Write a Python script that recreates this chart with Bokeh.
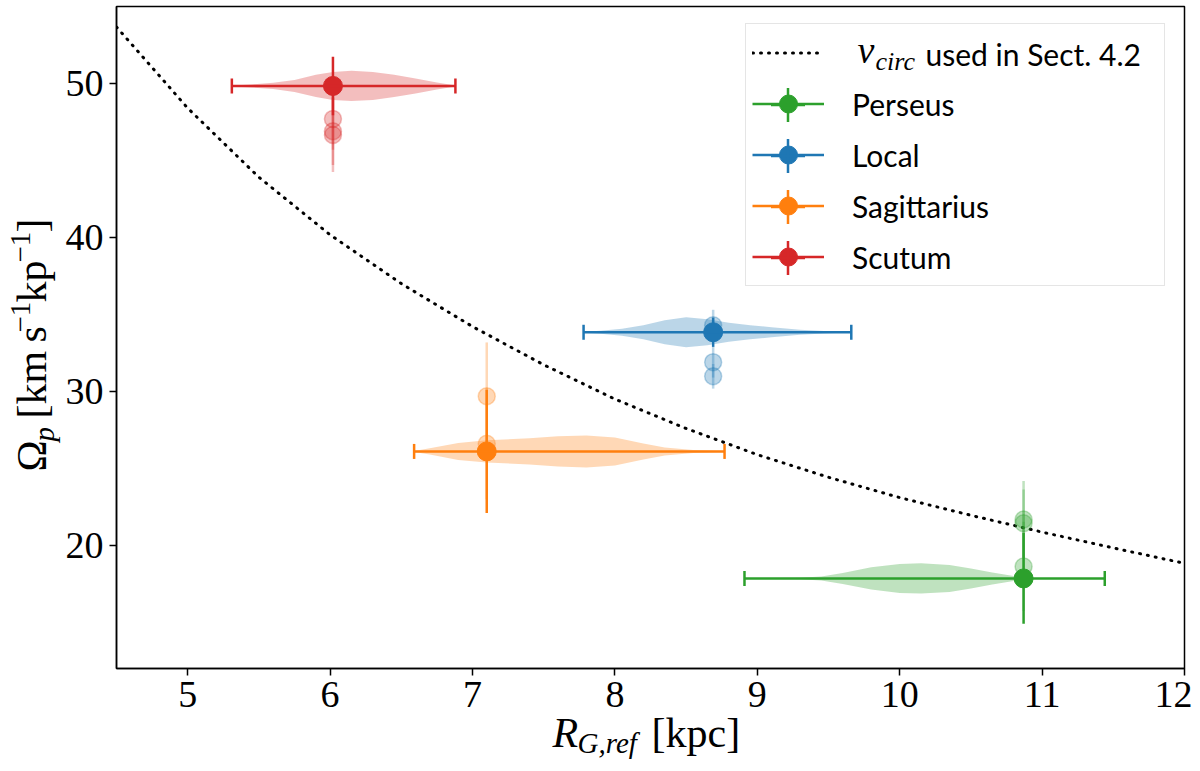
import numpy as np

from bokeh.plotting import figure
from bokeh.models import (ColumnDataSource, Range1d, FixedTicker, Whisker, TeeHead,
                          Legend, LegendItem, Label, GridBox)
from bokeh.core.properties import value
from bokeh.embed import file_html
from bokeh.resources import INLINE

# spiral arms, in legend order
arms = ["Perseus", "Local", "Sagittarius", "Scutum"]
arm_colors = ["#2ca02c", "#1f77b4", "#ff7f0e", "#d62728"]

# reference radius and the range of radii (kpc)
r_ref = [10.87, 8.69, 7.10, 6.02]
r_min = [8.91, 7.78, 6.59, 5.31]
r_max = [11.44, 9.66, 8.77, 6.88]

# pattern speed (km/s/kpc) and its error
omega_p = [17.85, 33.84, 26.10, 49.84]
omega_err = [2.95, 0.95, 4.0, 1.9]

# other estimates, drawn faded
alt_omega = [[21.68, 21.43, 18.63], [34.3, 31.9, 30.98], [29.68, 26.6], [47.7, 46.9, 46.65]]
alt_err = [[2.5, 2.2, 2.9], [1.0, 1.0, 0.8], [3.5, 3.6], [2.0, 2.2, 2.4]]

# violin outlines: radius grid and half width (Omega units)
violin_r = [
    [8.91, 9.1, 9.3, 9.45, 9.6, 9.8, 10.0, 10.15, 10.35, 10.5, 10.65, 10.8, 10.87],
    [7.78, 7.9, 8.05, 8.2, 8.35, 8.5, 8.65, 8.8, 8.95, 9.1, 9.3, 9.5, 9.66],
    [6.59, 6.7, 6.9, 7.1, 7.4, 7.6, 7.8, 8.0, 8.2, 8.35, 8.55, 8.77],
    [5.31, 5.45, 5.6, 5.75, 5.9, 6.02, 6.15, 6.3, 6.45, 6.6, 6.75, 6.88],
]
violin_hw = [
    [0.02, 0.03, 0.05, 0.13, 0.36, 0.72, 0.94, 0.98, 0.88, 0.65, 0.39, 0.16, 0.07],
    [0.03, 0.10, 0.23, 0.46, 0.78, 0.98, 0.85, 0.62, 0.46, 0.33, 0.16, 0.07, 0.02],
    [0.03, 0.20, 0.55, 0.72, 0.85, 0.98, 1.04, 0.91, 0.52, 0.26, 0.10, 0.02],
    [0.03, 0.10, 0.20, 0.39, 0.72, 0.91, 0.98, 0.91, 0.72, 0.49, 0.23, 0.03],
]

# Omega = v_circ / R curve (Sect. 4.2)
curve_r = [4.5, 5.0, 5.5, 6.0, 6.5, 7.0, 7.5, 8.0, 8.5, 9.0, 9.5, 10.0, 10.5, 11.0, 11.5, 12.0]
curve_omega = [53.67, 48.4, 43.91, 40.17, 37.0, 34.21, 31.73, 29.5, 27.59, 25.89,
               24.42, 23.1, 21.95, 20.86, 19.83, 18.83]

x_ticks = [5, 6, 7, 8, 9, 10, 11, 12]
y_ticks = [20, 30, 40, 50]

SERIF = "Liberation Serif"
SANS = "Lato"

W = 1192
H = 763
MID = 0.32  # baseline sits this many em below the middle anchor


def text_label(txt, sx, base, size, style="normal", font=SERIF, rotated=False):
    # base: baseline position (y up for flat text, x for rotated text)
    shift = MID * size
    if rotated:
        x, y, angle = base - shift, sx, np.pi / 2
    else:
        x, y, angle = sx, base + shift, 0.0
    return Label(x=x, y=y, x_units="screen", y_units="screen", text=txt, angle=angle,
                 text_font=font, text_font_style=style, text_font_size=f"{size}px",
                 text_color="black", text_baseline="middle", level="overlay")


p = figure(width=W, height=H, x_range=Range1d(4.5, 12), y_range=Range1d(12, 55),
           output_backend="svg", toolbar_location=None, title=None,
           min_border_left=116, min_border_right=8, min_border_top=6, min_border_bottom=95)
p.xgrid.visible = False
p.ygrid.visible = False
p.outline_line_color = "black"
p.outline_line_width = 1.5
p.outline_line_alpha = 1.0
p.background_fill_color = "white"
p.border_fill_color = "white"

p.xaxis.ticker = FixedTicker(ticks=x_ticks)
p.yaxis.ticker = FixedTicker(ticks=y_ticks)
for ax in (p.xaxis[0], p.yaxis[0]):
    ax.axis_line_width = 1.5
    ax.major_tick_line_width = 1.5
    ax.major_tick_out = 7
    ax.major_tick_in = 0
    ax.minor_tick_line_color = None
    ax.major_label_text_font = SERIF
    ax.major_label_text_font_size = "38px"
    ax.major_label_text_color = "black"
    ax.major_label_standoff = 6

# dotted circular-velocity curve
curve = p.line(curve_r, curve_omega, line_color="black", line_width=3,
               line_dash="1 7", line_cap="round")

# violins
for i, c in enumerate(arm_colors):
    rr = violin_r[i]
    hw = violin_hw[i]
    xs = list(rr) + list(rr[::-1])
    ys = [omega_p[i] + h for h in hw] + [omega_p[i] - h for h in hw[::-1]]
    p.patch(xs, ys, fill_color=c, fill_alpha=0.3, line_color=None)

# faded alternative estimates
for i, c in enumerate(arm_colors):
    n = len(alt_omega[i])
    src = ColumnDataSource(data=dict(
        x=[r_ref[i]] * n, y=alt_omega[i],
        lo=[o - e for o, e in zip(alt_omega[i], alt_err[i])],
        hi=[o + e for o, e in zip(alt_omega[i], alt_err[i])],
    ))
    p.segment(x0="x", y0="lo", x1="x", y1="hi", source=src, line_color=c,
              line_alpha=0.3, line_width=2.5)
    p.scatter("x", "y", source=src, size=17, fill_color=c, fill_alpha=0.3,
              line_color=c, line_alpha=0.3, line_width=1.5)

# main points with error bars
vbars = []
dots = []
ticks = []
for i, c in enumerate(arm_colors):
    src = ColumnDataSource(data=dict(
        x=[r_ref[i]], y=[omega_p[i]], xlo=[r_min[i]], xhi=[r_max[i]],
        ylo=[omega_p[i] - omega_err[i]], yhi=[omega_p[i] + omega_err[i]],
    ))
    wh = Whisker(source=src, base="y", lower="xlo", upper="xhi", dimension="width",
                 line_color=c, line_width=2.5, level="glyph",
                 lower_head=TeeHead(size=15, line_color=c, line_width=2.5),
                 upper_head=TeeHead(size=15, line_color=c, line_width=2.5))
    p.add_layout(wh)
    vbars.append(p.segment(x0="x", y0="ylo", x1="x", y1="yhi", source=src,
                           line_color=c, line_width=2.5))
    dots.append(p.scatter("x", "y", source=src, size=19, fill_color=c, line_color=c))
    # hidden cross, only used to draw the vertical tick in the legend
    ticks.append(p.scatter("x", "y", source=src, marker="cross", size=34,
                           line_color=c, line_width=2.5, visible=False))

legend = Legend(
    items=[LegendItem(label=value(""), renderers=[curve])]
    + [LegendItem(label=value(a), renderers=[vbars[i], dots[i]]) for i, a in enumerate(arms)],
    location=(629, 382), padding=6, spacing=6, margin=0,
    glyph_width=72, glyph_height=45, label_standoff=28, label_width=306,
    label_text_font=SANS, label_text_font_size="30px", label_text_color="black",
    border_line_color="#cccccc", border_line_width=1.5,
    background_fill_color="white", background_fill_alpha=0.0,
)
p.add_layout(legend)

# vertical error-bar ticks in the legend, one small legend per row
for i in range(len(arms)):
    p.add_layout(Legend(
        items=[LegendItem(label=value(""), renderers=[ticks[i]])],
        location=(628.5, 521 - 51 * i), padding=0, spacing=0, margin=0,
        glyph_width=85, glyph_height=85, label_standoff=0, label_width=0,
        border_line_color=None, background_fill_alpha=0, inactive_fill_alpha=0,
    ))

# first legend label: v_circ used in Sect. 4.2
p.add_layout(text_label("v", 741, 606, 38, "italic"))
p.add_layout(text_label("circ", 759, 599, 26, "italic"))
p.add_layout(text_label("used in Sect. 4.2", 809, 605, 30, font=SANS))

# transparent overlay of the same size for the axis titles (screen = page pixels)
over = figure(width=W, height=H, x_axis_type=None, y_axis_type=None,
              output_backend="svg", toolbar_location=None, title=None,
              min_border=0, outline_line_color=None,
              background_fill_color=None, border_fill_color=None)
over.frame_align = False
over.xgrid.visible = False
over.ygrid.visible = False

# x axis label: R_{G,ref} [kpc]
for txt, sx, base, style, size in [("R", 552, 17, "italic", 42),
                                   ("G,ref", 577, 11, "italic", 29),
                                   ("[kpc]", 651, 17, "normal", 42)]:
    over.add_layout(text_label(txt, sx, base, size, style))

# y axis label: Omega_p [km s^-1 kp^-1], rotated
for txt, sy, base, style, size in [("Ω", 292, 45, "normal", 42),
                                   ("p", 322, 53, "italic", 29),
                                   ("[km\u2009s", 345, 45, "normal", 42),
                                   ("\u22121", 431, 29, "normal", 29),
                                   ("kp", 461, 45, "normal", 42),
                                   ("\u22121", 501, 29, "normal", 29),
                                   ("]", 531, 45, "normal", 42)]:
    over.add_layout(text_label(txt, sy, base, size, style, rotated=True))

layout = GridBox(children=[(p, 0, 0), (over, 0, 0)])
open("out.html", "w").write(file_html(layout, INLINE))
